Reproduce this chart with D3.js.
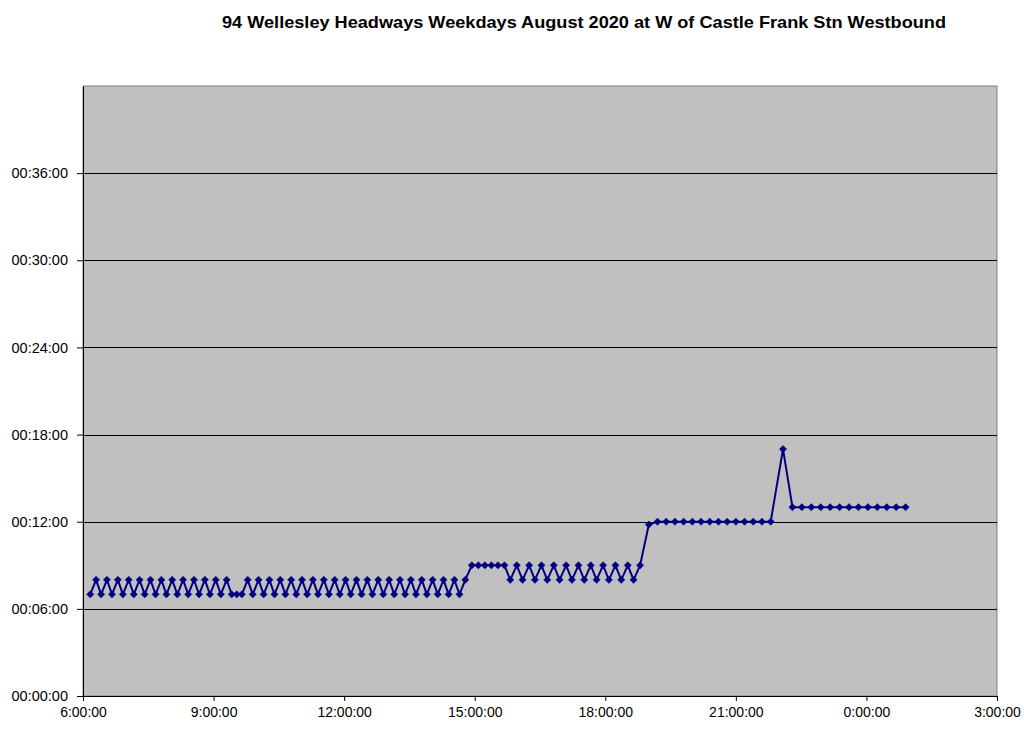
<!DOCTYPE html>
<html>
<head>
<meta charset="utf-8">
<script src="https://cdn.jsdelivr.net/npm/d3@7"></script>
<style>
  html, body { margin: 0; padding: 0; background: #ffffff; }
  svg text { font-family: "Liberation Sans", Arial, sans-serif; }
</style>
</head>
<body>
<svg id="chart" width="1024" height="734"></svg>
<script>
// ---- Data ----
const chartTitle = "94 Wellesley Headways Weekdays August 2020 at W of Castle Frank Stn Westbound";

// Departure times (bus passing time) and headway in minutes
const times = [
  "6:10","6:18","6:25","6:33","6:40","6:48","6:55","7:03","7:10","7:18","7:25","7:33","7:40","7:48","7:55",
  "8:03","8:10","8:18","8:25","8:33","8:40","8:48","8:55","9:03","9:10","9:18",
  "9:25","9:32","9:39",
  "9:47","9:54","10:02","10:09","10:17","10:24","10:32","10:39","10:47","10:54",
  "11:02","11:09","11:17","11:24","11:32","11:39","11:47","11:54",
  "12:02","12:09","12:17","12:24","12:32","12:39","12:47","12:54",
  "13:02","13:09","13:17","13:24","13:32","13:39","13:47","13:54",
  "14:02","14:09","14:17","14:24","14:32","14:39","14:47",
  "14:56","15:05","15:14","15:23","15:32","15:41",
  "15:49","15:58","16:06","16:15","16:23","16:32","16:40","16:49","16:57","17:06","17:14",
  "17:23","17:31","17:40","17:48","17:57","18:05","18:14","18:22","18:31","18:39","18:48",
  "19:00","19:12","19:24","19:36","19:48","20:00","20:12","20:24","20:36","20:48","21:00",
  "21:12","21:24","21:36","21:48",
  "22:05",
  "22:18","22:31","22:44","22:57","23:10","23:23","23:36","23:49","0:02","0:15","0:28","0:41","0:54"
];
const headways = [
  7,8,7,8,7,8,7,8,7,8,7,8,7,8,7,
  8,7,8,7,8,7,8,7,8,7,8,
  7,7,7,
  8,7,8,7,8,7,8,7,8,7,
  8,7,8,7,8,7,8,7,
  8,7,8,7,8,7,8,7,
  8,7,8,7,8,7,8,7,
  8,7,8,7,8,7,8,
  9,9,9,9,9,9,
  8,9,8,9,8,9,8,9,8,9,8,
  9,8,9,8,9,8,9,8,9,8,9,
  11.8,12,12,12,12,12,12,12,12,12,12,
  12,12,12,12,
  17,
  13,13,13,13,13,13,13,13,13,13,13,13,13
];

const xTickValues = ["6:00:00","9:00:00","12:00:00","15:00:00","18:00:00","21:00:00","0:00:00","3:00:00"];
const yTickValues = [0,6,12,18,24,30,36];
const yMax = 42;

// ---- Helpers ----
function toMinutes(s) {
  const p = s.split(":").map(Number);
  let h = p[0];
  if (h < 6) h += 24;
  return h * 60 + p[1] + (p[2] || 0) / 60;
}
const data = times.map((t, i) => ({ t: toMinutes(t), v: headways[i] }));

// ---- Layout ----
const svg = d3.select("#chart");
const L = 83, R = 997, T = 86, B = 696;

const x = d3.scaleLinear().domain([toMinutes("6:00"), toMinutes("3:00") ]).range([L, R]);
const y = d3.scaleLinear().domain([0, yMax]).range([B, T]);

// Title
svg.append("text")
  .attr("x", 222).attr("y", 28)
  .attr("text-anchor", "start")
  .attr("textLength", 724)
  .attr("lengthAdjust", "spacingAndGlyphs")
  .style("font-size", "17px").style("font-weight", "bold")
  .attr("fill", "#000")
  .text(chartTitle);

// Plot background
svg.append("rect")
  .attr("x", L).attr("y", T).attr("width", R - L).attr("height", B - T)
  .attr("fill", "#c0c0c0").attr("stroke", "#808080").attr("stroke-width", 1);

// Gridlines
svg.append("g").selectAll("line")
  .data(yTickValues.filter(d => d > 0))
  .join("line")
  .attr("x1", L).attr("x2", R)
  .attr("y1", d => Math.round(y(d)) + 0.5).attr("y2", d => Math.round(y(d)) + 0.5)
  .attr("stroke", "#000").attr("stroke-width", 1);

// Axes
const fmtY = d => "00:" + String(d).padStart(2, "0") + ":00";
const yAxis = d3.axisLeft(y).tickValues(yTickValues).tickFormat(fmtY).tickSize(6).tickSizeOuter(0);
const gy = svg.append("g").attr("transform", `translate(${L},0)`).call(yAxis);
gy.select(".domain").attr("stroke", "#000");
gy.selectAll(".tick line").attr("stroke", "#000");
gy.selectAll(".tick text").style("font-size", "14.5px").attr("fill", "#000").attr("x", -15);

const xTickMinutes = xTickValues.map(s => toMinutes(s));
const xAxis = d3.axisBottom(x).tickValues(xTickMinutes)
  .tickFormat((d, i) => xTickValues[i]).tickSize(5).tickSizeOuter(0);
const gx = svg.append("g").attr("transform", `translate(0,${B})`).call(xAxis);
gx.select(".domain").attr("stroke", "#000");
gx.selectAll(".tick line").attr("stroke", "#000");
gx.selectAll(".tick text").style("font-size", "14px").attr("fill", "#000").attr("y", 11);

// Line
const line = d3.line().x(d => x(d.t)).y(d => y(d.v));
svg.append("path")
  .datum(data)
  .attr("d", line)
  .attr("fill", "none")
  .attr("stroke", "#000080")
  .attr("stroke-width", 2)
  .attr("stroke-linejoin", "round");

// Markers (diamonds)
const sym = d3.symbol().type(d3.symbolSquare).size(26);
svg.append("g").selectAll("path")
  .data(data)
  .join("path")
  .attr("d", sym)
  .attr("transform", d => `translate(${x(d.t)},${y(d.v)}) rotate(45)`)
  .attr("fill", "#000080")
  .attr("stroke", "#000080")
  .attr("stroke-width", 0.5);
</script>
</body>
</html>
